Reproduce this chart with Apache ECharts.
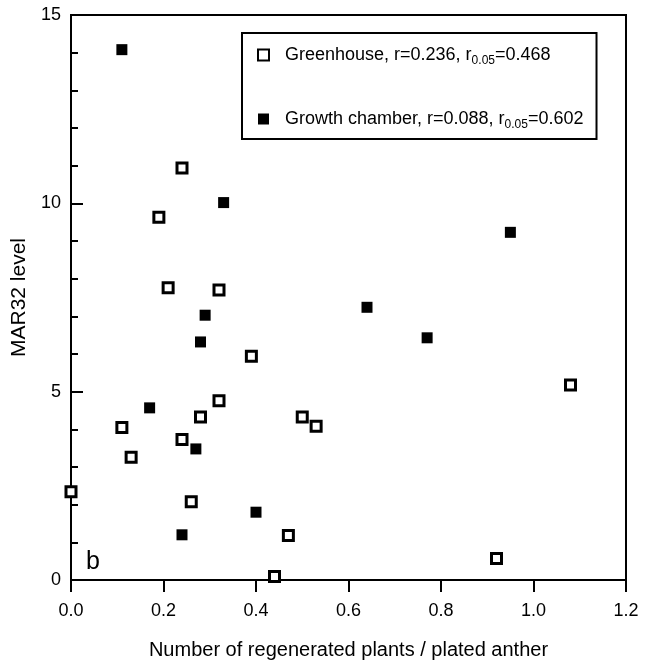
<!DOCTYPE html>
<html><head><meta charset="utf-8">
<script src="https://cdn.jsdelivr.net/npm/echarts@6/dist/echarts.min.js"></script>
<style>html,body{margin:0;padding:0;background:#fff}#c{width:652px;height:665px}</style>
</head><body><div id="c"></div>
<script>
const greenhouseX = [0.24, 0.19, 0.21, 0.32, 0.39, 0.32, 0.28, 0.50, 0.53, 0.11, 0.24, 0.13, 0.00, 0.26, 0.47, 0.44, 0.92, 1.08];
const greenhouseY = [10.94, 9.63, 7.76, 7.70, 5.94, 4.76, 4.33, 4.33, 4.08, 4.05, 3.73, 3.26, 2.34, 2.08, 1.18, 0.09, 0.57, 5.18];
const chamberX = [0.11, 0.33, 0.95, 0.64, 0.29, 0.28, 0.77, 0.17, 0.27, 0.40, 0.24];
const chamberY = [14.08, 10.02, 9.23, 7.24, 7.03, 6.32, 6.43, 4.57, 3.48, 1.80, 1.20];
const seriesNames = ['Greenhouse', 'Growth chamber'];
const rValues = ['0.236', '0.088'];
const rCrit = ['0.468', '0.602'];
const xTitle = 'Number of regenerated plants / plated anther';
const yTitle = 'MAR32 level';
const panelLabel = 'b';

const font = 'Liberation Sans, Arial, Helvetica, sans-serif';
const zip = (xs, ys) => xs.map((x, i) => [x, ys[i]]);

const chart = echarts.init(document.getElementById('c'));
chart.setOption({
  animation: false,
  backgroundColor: '#fff',
  grid: { left: 71, right: 26, top: 15, bottom: 80, show: true, borderColor: '#000', borderWidth: 2, backgroundColor: 'transparent' },
  xAxis: {
    type: 'value', min: 0, max: 1.2, interval: 0.2,
    name: xTitle, nameLocation: 'middle', nameGap: 60,
    nameTextStyle: { color: '#000', fontSize: 20, fontFamily: font },
    axisLine: { show: true, lineStyle: { color: '#000', width: 2 } },
    axisTick: { show: true, inside: false, length: 12, lineStyle: { color: '#000', width: 2 } },
    axisLabel: { color: '#000', fontSize: 18, fontFamily: font, margin: 22, formatter: v => v.toFixed(1) },
    splitLine: { show: false }
  },
  yAxis: {
    type: 'value', min: 0, max: 15, interval: 5,
    name: yTitle, nameLocation: 'middle', nameGap: 32,
    nameTextStyle: { color: '#000', fontSize: 21, fontFamily: font },
    axisLine: { show: true, lineStyle: { color: '#000', width: 2 } },
    axisTick: { show: true, inside: true, length: 12, lineStyle: { color: '#000', width: 2 } },
    minorTick: { show: true, splitNumber: 5, length: 7, lineStyle: { color: '#000', width: 2 } },
    axisLabel: { color: '#000', fontSize: 18, fontFamily: font, margin: 10 },
    splitLine: { show: false }
  },
  legend: {
    orient: 'vertical', left: 242, top: 33,
    borderColor: '#000', borderWidth: 2, padding: [10, 13, 8, 15],
    itemGap: 40, itemWidth: 11, itemHeight: 11,
    data: seriesNames,
    formatter: name => {
      const i = seriesNames.indexOf(name);
      return name + ', r=' + rValues[i] + ', r{sub|0.05}=' + rCrit[i];
    },
    textStyle: { color: '#000', fontSize: 18, fontFamily: font, lineHeight: 24, padding: [0, 0, 0, 11],
      rich: { sub: { fontSize: 12, fontFamily: font, color: '#000', padding: [12, 0, 0, 0] } } }
  },
  graphic: [{ type: 'text', left: 86, top: 550, style: { text: panelLabel, fontSize: 25, fontFamily: font, fill: '#000' } }],
  series: [
    { name: seriesNames[0], type: 'scatter', symbol: 'rect', symbolSize: 10,
      itemStyle: { color: '#fff', borderColor: '#000', borderWidth: 3, opacity: 1 },
      data: zip(greenhouseX, greenhouseY) },
    { name: seriesNames[1], type: 'scatter', symbol: 'rect', symbolSize: 11,
      itemStyle: { color: '#000', opacity: 1 },
      data: zip(chamberX, chamberY) }
  ]
});
</script></body></html>
